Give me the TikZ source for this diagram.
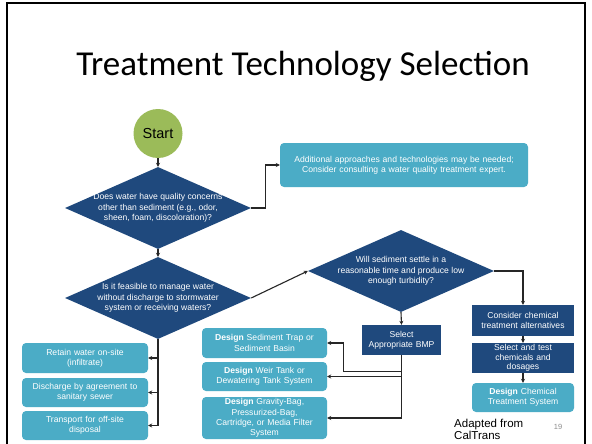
\documentclass[tikz,border=0pt]{standalone}
\usepackage{fontspec}
\setmainfont{Liberation Sans}
\newfontfamily\titlefont{Carlito}
\usetikzlibrary{shapes.geometric,arrows.meta,calc}
\definecolor{dblue}{HTML}{1F497D}
\definecolor{tealbox}{HTML}{4BACC6}
\definecolor{sgreen}{HTML}{9BBB59}
\definecolor{lnc}{HTML}{262626}
\definecolor{pgnum}{HTML}{8C8C8C}
\begin{document}
\begin{tikzpicture}[x=1pt,y=-1pt,
  txt/.style={font=\fontsize{8.6}{10.3}\selectfont, text=white, align=center},
  tbox/.style={txt, fill=tealbox, rounded corners=4pt, inner sep=0pt},
  dbox/.style={txt, fill=dblue, inner sep=0pt},
  dia/.style={diamond, fill=dblue, inner sep=0pt, minimum width=186pt, minimum height=82pt},
  arr/.style={draw=lnc, line width=1.1pt, -{Stealth[length=4pt,width=4pt]}},
]
\useasboundingbox (0,0) rectangle (592,444);
\fill[white] (0,0) rectangle (592,444);
\draw[line width=1.6pt] (7,450) -- (7,3) -- (585,3) -- (585,450);

\node[font=\titlefont\fontsize{35}{40}\selectfont, anchor=base] (title) at (303,76) {Treatment Technology Selection};

\node[circle, fill=sgreen, minimum size=49pt, inner sep=0pt, font=\fontsize{14.5}{16}\selectfont] (start) at (158,133.5) {Start};

\node[dia] (d1) at (158,208) {};
\node[txt] (d1t) at (d1.center) {Does water have quality concerns\\other than sediment (e.g., odor,\\sheen, foam, discoloration)?};
\node[dia] (d2) at (158,298) {};
\node[txt] (d2t) at (d2.center) {Is it feasible to manage water\\without discharge to stormwater\\system or receiving waters?};
\node[dia] (d3) at (401,271) {};
\node[txt] (d3t) at (d3.center) {Will sediment settle in a\\reasonable time and produce low\\enough turbidity?};

\node[tbox, minimum width=248pt, minimum height=44pt, text width=240pt] (addl) at (404,165) {Additional approaches and technologies may be needed;\\Consider consulting a water quality treatment expert.};

\node[tbox, minimum width=126pt, minimum height=30pt, text width=120pt] (L1) at (85,358) {Retain water on-site\\(infiltrate)};
\node[tbox, minimum width=126pt, minimum height=29pt, text width=120pt] (L2) at (85,392.5) {Discharge by agreement to\\sanitary sewer};
\node[tbox, minimum width=126pt, minimum height=29pt, text width=120pt] (L3) at (85,425.5) {Transport for off-site\\disposal};

\node[tbox, minimum width=125pt, minimum height=30pt, text width=120pt] (D1) at (264.5,343) {\textbf{Design} Sediment Trap or\\Sediment Basin};
\node[tbox, minimum width=125pt, minimum height=29pt, text width=120pt] (D2) at (264.5,376.5) {\textbf{Design} Weir Tank or\\Dewatering Tank System};
\node[tbox, minimum width=125pt, minimum height=42pt, text width=120pt] (D3) at (264.5,418) {\textbf{Design} Gravity-Bag,\\Pressurized-Bag,\\Cartridge, or Media Filter\\System};

\node[dbox, minimum width=79pt, minimum height=30pt, text width=76pt] (bmp) at (401.5,340) {Select\\Appropriate BMP};

\node[dbox, minimum width=102pt, minimum height=31pt, text width=98pt] (c1) at (523,320.5) {Consider chemical\\treatment alternatives};
\node[dbox, minimum width=102pt, minimum height=30pt, text width=98pt, font=\fontsize{8.6}{9.6}\selectfont] (c2) at (523,358) {Select and test\\chemicals and\\dosages};
\node[tbox, minimum width=102pt, minimum height=29pt, text width=98pt] (c3) at (523,397.5) {\textbf{Design} Chemical\\Treatment System};

\node[anchor=west, align=left, inner sep=0pt, font=\fontsize{11.5}{12.7}\selectfont] (src) at (454,429.5) {Adapted from\\CalTrans};
\node[text=pgnum, inner sep=0pt, font=\fontsize{7.5}{9}\selectfont] (pg) at (558,427) {19};

% connectors
\draw[arr] (start) -- (d1.north);
\draw[arr] (d1.east) -- ++(14,0) |- (addl.west);
\draw[arr] (d1.south) -- (d2.north);
\draw[arr] (d2.east) -- (d3.west);
\draw[arr] (d2.south) |- (L3.east);
\draw[arr] (d2.south |- L1.east) -- (L1.east);
\draw[arr] (d2.south |- L2.east) -- (L2.east);
\draw[arr] (d3.east) -| (c1.north);
\draw[arr] (c1.south) -- (c2.north);
\draw[arr] (c2.south) -- (c3.north);
\draw[arr] (d3.south) -- (bmp.north);
\draw[arr] (bmp.south) |- (D3.east);
\draw[arr] (bmp.south |- D2.east) -- (D2.east);
\coordinate (j1) at ($(bmp.south)+(0,16)$);
\draw[arr] (j1) -- ++(-58,0) |- (D1.east);
\end{tikzpicture}
\end{document}
